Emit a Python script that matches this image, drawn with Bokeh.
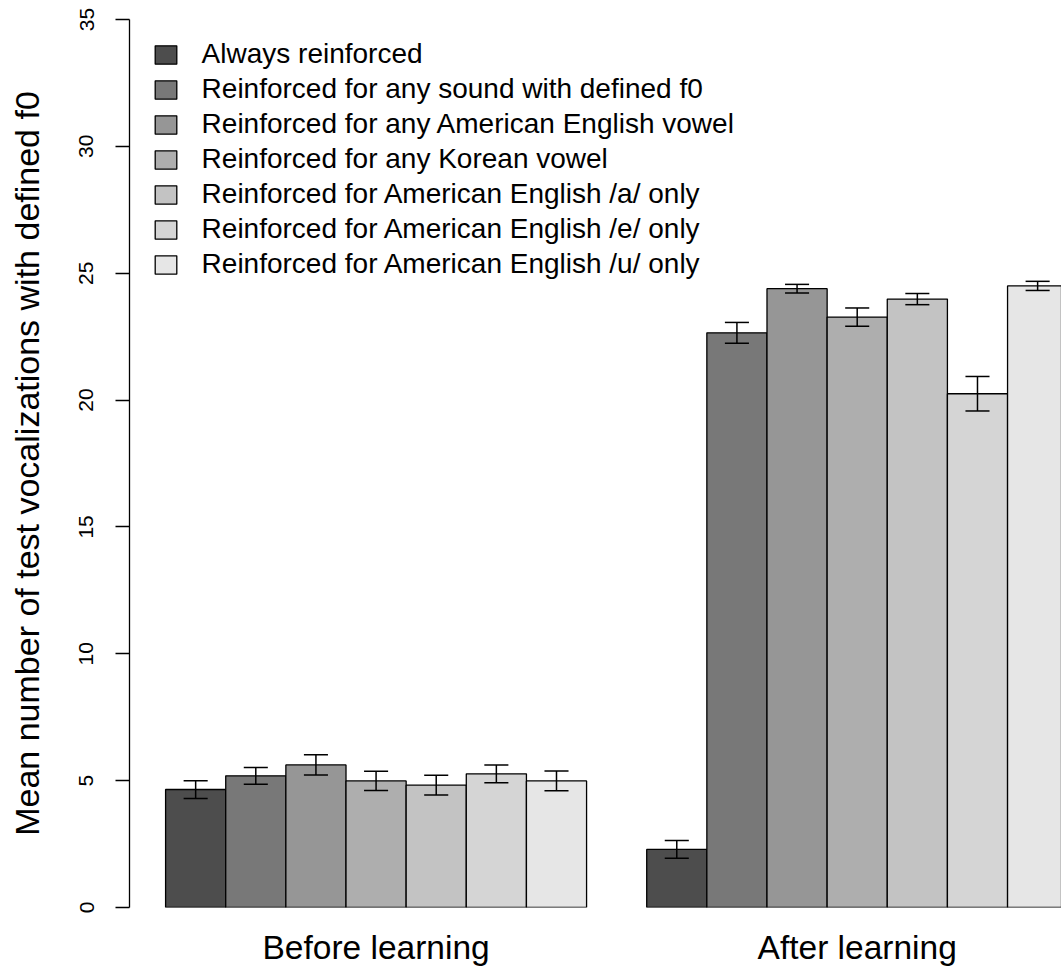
from bokeh.plotting import figure
from bokeh.models import Legend, LegendItem, FixedTicker, ColumnDataSource
from bokeh.embed import file_html
from bokeh.resources import INLINE

# ---- data ----
groups = ["Before learning", "After learning"]
series = [
    "Always reinforced",
    "Reinforced for any sound with defined f0",
    "Reinforced for any American English vowel",
    "Reinforced for any Korean vowel",
    "Reinforced for American English /a/ only",
    "Reinforced for American English /e/ only",
    "Reinforced for American English /u/ only",
]
before = [4.65, 5.19, 5.62, 4.99, 4.82, 5.27, 4.99]
before_se = [0.35, 0.33, 0.40, 0.38, 0.39, 0.35, 0.39]
after = [2.29, 22.65, 24.39, 23.27, 23.98, 20.25, 24.50]
after_se = [0.35, 0.41, 0.17, 0.36, 0.22, 0.68, 0.18]
colors = ["#4D4D4D", "#787878", "#969696", "#AEAEAE", "#C3C3C3", "#D5D5D5", "#E6E6E6"]
y_ticks = [0, 5, 10, 15, 20, 25, 30, 35]

FONT = "Liberation Sans"
n = len(series)
group_centers = [1 + gi * (n + 1) + n / 2 for gi in range(len(groups))]

p = figure(width=1061, height=968, output_backend="svg", toolbar_location=None,
           x_range=(0.4, 15.897), y_range=(0, 35),
           min_border_left=129, min_border_right=0, min_border_top=19, min_border_bottom=61)
p.outline_line_color = None
p.grid.visible = False

# x axis: group labels only
xa = p.xaxis[0]
xa.ticker = FixedTicker(ticks=group_centers)
xa.major_label_overrides = {c: g for c, g in zip(group_centers, groups)}
xa.axis_line_color = None
xa.major_tick_line_color = None
xa.minor_tick_line_color = None
xa.major_tick_in = 0
xa.major_tick_out = 0
xa.major_label_standoff = 21
xa.major_label_text_font = FONT
xa.major_label_text_font_size = "33.5px"
xa.major_label_text_color = "black"

# y axis
ya = p.yaxis[0]
ya.ticker = FixedTicker(ticks=y_ticks)
ya.minor_tick_line_color = None
ya.major_tick_in = 0
ya.major_tick_out = 14
ya.major_tick_line_width = 1.3
ya.axis_line_width = 1.3
ya.major_label_orientation = "vertical"
ya.major_label_text_font = FONT
ya.major_label_text_font_size = "21px"
ya.major_label_text_color = "black"
ya.major_label_standoff = 22
ya.axis_label = "Mean number of test vocalizations with defined f0"
ya.axis_label_text_font = FONT
ya.axis_label_text_font_size = "34px"
ya.axis_label_text_font_style = "normal"
ya.axis_label_text_color = "black"
ya.axis_label_standoff = 31

items = []
for i in range(n):
    xs = [group_centers[0] - n / 2 + i + 0.5, group_centers[1] - n / 2 + i + 0.5]
    tops = [before[i], after[i]]
    ses = [before_se[i], after_se[i]]
    src = ColumnDataSource(dict(x=xs, top=tops))
    r = p.vbar(x="x", top="top", bottom=0, width=1.0, source=src,
               fill_color=colors[i], line_color="black", line_width=1.3)
    lo = [t - s for t, s in zip(tops, ses)]
    hi = [t + s for t, s in zip(tops, ses)]
    p.segment(x0=xs, x1=xs, y0=lo, y1=hi, line_color="black", line_width=1.5)
    p.segment(x0=[x - 0.2 for x in xs], x1=[x + 0.2 for x in xs], y0=lo, y1=lo,
              line_color="black", line_width=1.5)
    p.segment(x0=[x - 0.2 for x in xs], x1=[x + 0.2 for x in xs], y0=hi, y1=hi,
              line_color="black", line_width=1.5)
    items.append(LegendItem(label=series[i], renderers=[r]))

legend = Legend(items=items, location=(22.6, 625.5), padding=0, margin=0, spacing=0,
                glyph_width=27, glyph_height=23, label_height=35, label_standoff=23,
                label_text_font=FONT, label_text_font_size="28px", label_text_color="black",
                border_line_color=None, background_fill_alpha=0)
p.add_layout(legend, "center")

open("out.html", "w").write(file_html(p, INLINE))
